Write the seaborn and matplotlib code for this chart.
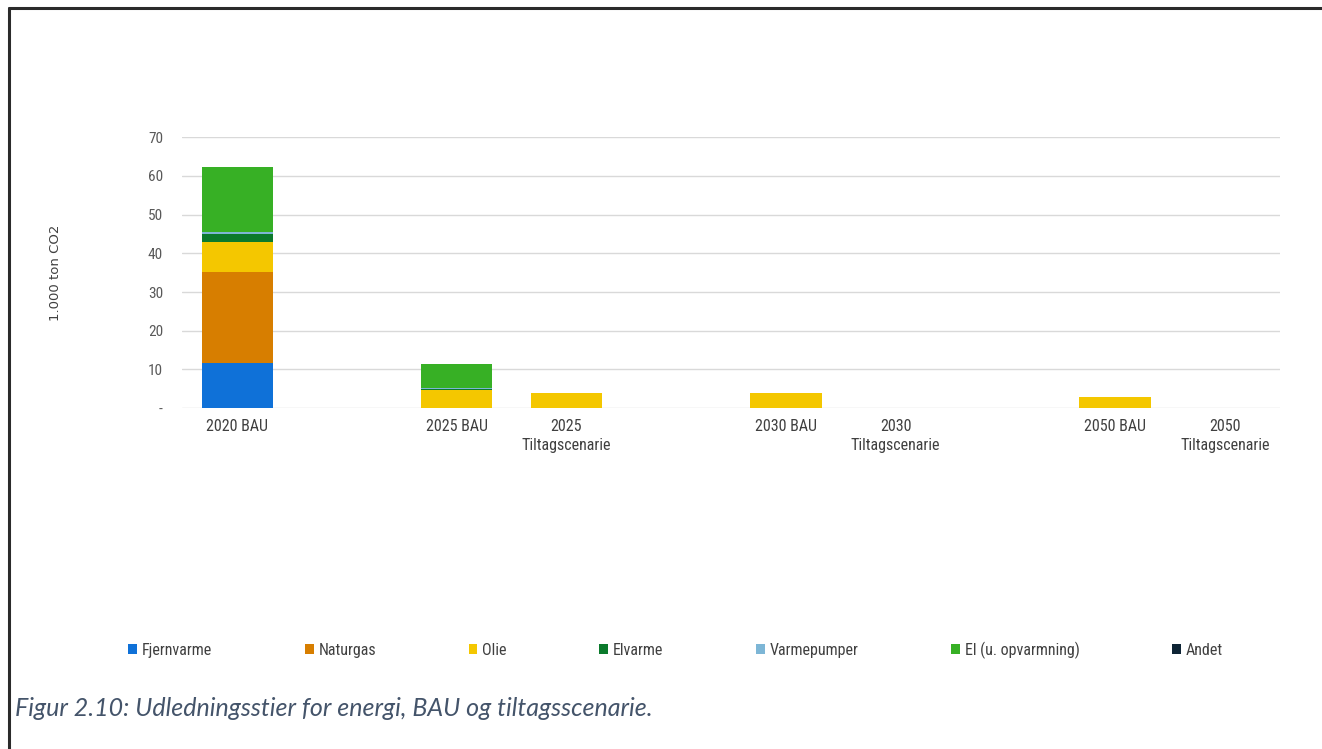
import matplotlib.pyplot as plt
import seaborn as sns
import pandas as pd
import numpy as np
from matplotlib.lines import Line2D
from matplotlib.patches import Patch

# categories (gaps are empty slots on the axis)
slots = ['2020 BAU', 'gap1', '2025 BAU', '2025 Tilt', 'gap2',
         '2030 BAU', '2030 Tilt', 'gap3', '2050 BAU', '2050 Tilt']
slot_labels = ['2020 BAU', '', '2025 BAU', '2025\nTiltagscenarie', '',
               '2030 BAU', '2030\nTiltagscenarie', '', '2050 BAU', '2050\nTiltagscenarie']
scenarios = ['2020 BAU', '2025 BAU', '2025 Tilt', '2030 BAU', '2030 Tilt', '2050 BAU', '2050 Tilt']

series = ['Fjernvarme', 'Naturgas', 'Olie', 'Elvarme', 'Varmepumper', 'El (u. opvarmning)', 'Andet']
fjernvarme = [11.7, 0, 0, 0, 0, 0, 0]
naturgas = [23.5, 0, 0, 0, 0, 0, 0]
olie = [7.8, 4.6, 3.8, 3.8, 0, 2.8, 0]
elvarme = [1.9, 0.4, 0, 0, 0, 0, 0]
varmepumper = [0.6, 0.3, 0, 0, 0, 0, 0]
el = [16.7, 6.0, 0, 0, 0, 0, 0]
andet = [0, 0, 0, 0, 0, 0, 0]

colors = ['#0F71D8', '#D77E00', '#F4C700', '#0B7A2C', '#7DB6D6', '#37B025', '#0E2435']

df = pd.DataFrame({'Scenarie': scenarios, 'Fjernvarme': fjernvarme, 'Naturgas': naturgas,
                   'Olie': olie, 'Elvarme': elvarme, 'Varmepumper': varmepumper,
                   'El (u. opvarmning)': el, 'Andet': andet})
cum = df[series].cumsum(axis=1)
cum['Scenarie'] = df['Scenarie']

sns.set_style('white')
plt.rcParams['font.family'] = ['Roboto Condensed', 'Roboto', 'DejaVu Sans']

fig = plt.figure(figsize=(13.22, 7.49), dpi=100)
ax = fig.add_axes([0.138, 0.455, 0.83, 0.362])

# draw cumulative totals from the top layer down so they stack
for name, col in reversed(list(zip(series, colors))):
    sns.barplot(data=cum, x='Scenarie', y=name, order=slots, color=col,
                width=0.65, saturation=1, linewidth=0, ax=ax, zorder=3)

ax.set_ylim(0, 70)
ax.set_xlim(-0.5, len(slots) - 0.5)
ax.set_yticks(np.arange(0, 71, 10))
ax.set_yticklabels(['-'] + [str(v) for v in range(10, 71, 10)], color='#595959', fontsize=11)
ax.set_xticks(range(len(slots)))
ax.set_xticklabels(slot_labels, color='#404040', fontsize=11.5, linespacing=1.3)
ax.tick_params(axis='both', length=0, pad=8)
ax.tick_params(axis='y', pad=14)
ax.grid(axis='y', color='#D9D9D9', linewidth=1, zorder=0)
ax.set_axisbelow(True)
for s in ax.spines.values():
    s.set_visible(False)
ax.set_xlabel('')
ax.set_ylabel('1.000 ton CO2', fontsize=9.5, color='#404040', family='DejaVu Sans', labelpad=62)

handles = [Patch(facecolor=c, edgecolor='none') for c in colors]
fig.legend(handles, series, loc='center', bbox_to_anchor=(0.511, 0.132), ncol=7,
           frameon=False, fontsize=11.5, handlelength=0.55, handleheight=0.55,
           handletextpad=0.3, columnspacing=5.8, labelcolor='#404040')

fig.text(0.011, 0.054, 'Figur 2.10: Udledningsstier for energi, BAU og tiltagsscenarie.',
         fontsize=18, style='italic', color='#44546A', family=['Lato', 'DejaVu Sans'],
         va='center', ha='left')

# frame lines on top and left edge
fig.add_artist(Line2D([0.007, 1.0], [0.989, 0.989], color='#2B2B2B', linewidth=2.2,
                      transform=fig.transFigure))
fig.add_artist(Line2D([0.007, 0.007], [0.0, 0.989], color='#2B2B2B', linewidth=2.2,
                      transform=fig.transFigure))

fig.savefig('out.png', dpi=100)
plt.close()
